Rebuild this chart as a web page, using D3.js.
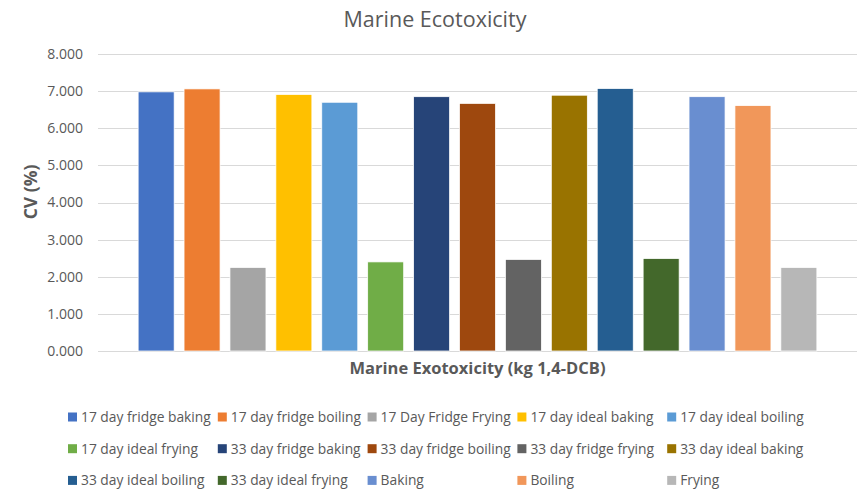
<!DOCTYPE html>
<html>
<head>
<meta charset="utf-8">
<script src="https://cdn.jsdelivr.net/npm/d3@7"></script>
<style>
  html, body { margin: 0; padding: 0; background: #fff; }
  svg { display: block; font-family: "Open Sans", "Noto Sans", sans-serif; }
</style>
</head>
<body>
<svg id="chart" width="863" height="493"></svg>
<script>
// Single category, one bar per treatment series
const category = "Marine Exotoxicity (kg 1,4-DCB)";
const seriesNames = [
  "17 day fridge baking", "17 day fridge boiling", "17 Day Fridge Frying",
  "17 day ideal baking", "17 day ideal boiling", "17 day ideal frying",
  "33 day fridge baking", "33 day fridge boiling", "33 day fridge frying",
  "33 day ideal baking", "33 day ideal boiling", "33 day ideal frying",
  "Baking", "Boiling", "Frying"
];
const seriesValues = [6.98, 7.06, 2.25, 6.91, 6.70, 2.40, 6.85, 6.67, 2.465, 6.89, 7.07, 2.49, 6.85, 6.61, 2.25];
const seriesColors = [
  "#4472C4", "#ED7D31", "#A5A5A5", "#FFC000", "#5B9BD5", "#70AD47",
  "#264478", "#9E480E", "#636363", "#997300", "#255E91", "#43682B",
  "#698ED0", "#F1975A", "#B7B7B7"
];
const yTicks = [0, 1, 2, 3, 4, 5, 6, 7, 8];

const svg = d3.select("#chart");
const plot = { left: 98, right: 857, top: 54, bottom: 351 };
const textColor = "#595959";

const y = d3.scaleLinear().domain([0, 8]).range([plot.bottom, plot.top]);
const x0 = d3.scaleBand().domain([category]).range([plot.left, plot.right]).paddingOuter(0.0511);
const x1 = d3.scaleBand().domain(seriesNames).range([0, x0.bandwidth()]).paddingInner(0.2155).paddingOuter(0.2155 / 2);

// Gridlines
svg.append("g")
  .selectAll("line")
  .data(yTicks)
  .join("line")
  .attr("x1", plot.left).attr("x2", plot.right)
  .attr("y1", d => Math.round(y(d)) + 0.5).attr("y2", d => Math.round(y(d)) + 0.5)
  .attr("stroke", "#D9D9D9").attr("stroke-width", 1);

// Y axis labels
const yAxis = d3.axisLeft(y).tickValues(yTicks).tickFormat(d3.format(".3f")).tickSize(0).tickPadding(0);
const gy = svg.append("g").attr("transform", `translate(83,0)`).call(yAxis);
gy.select(".domain").remove();
gy.selectAll("text").attr("fill", textColor).style("font-size", "14px").style("font-family", "'Open Sans', sans-serif");

// Bars
const data = seriesNames.map((name, i) => ({ name, value: seriesValues[i], color: seriesColors[i] }));
svg.append("g")
  .attr("transform", `translate(${x0(category)},0)`)
  .selectAll("rect")
  .data(data)
  .join("rect")
  .attr("x", d => x1(d.name))
  .attr("width", x1.bandwidth())
  .attr("y", d => y(d.value))
  .attr("height", d => y(0) - y(d.value))
  .attr("fill", d => d.color)
  .attr("stroke", "#ffffff")
  .attr("stroke-width", 0.75);

// Title
svg.append("text")
  .attr("x", 435).attr("y", 27)
  .attr("text-anchor", "middle")
  .attr("fill", textColor)
  .style("font-size", "21.5px")
  .text("Marine Ecotoxicity");

// Axis titles
svg.append("text")
  .attr("x", (plot.left + plot.right) / 2).attr("y", 374)
  .attr("text-anchor", "middle")
  .attr("fill", textColor)
  .style("font-size", "16.5px").style("font-weight", "bold")
  .text(category);

svg.append("text")
  .attr("transform", "translate(37,192) rotate(-90)")
  .attr("text-anchor", "middle")
  .attr("fill", textColor)
  .style("font-size", "17.5px").style("font-weight", "bold")
  .text("CV (%)");

// Legend: 5 columns x 3 rows
const legendCols = 5;
const legend = svg.append("g")
  .selectAll("g")
  .data(data)
  .join("g")
  .attr("transform", (d, i) => {
    const col = i % legendCols, row = Math.floor(i / legendCols);
    return `translate(${68 + col * 149.8},${417 + row * 31.7})`;
  });
legend.append("rect")
  .attr("x", 0).attr("y", -4.5).attr("width", 9).attr("height", 9)
  .attr("fill", d => d.color);
legend.append("text")
  .attr("x", 13).attr("y", 0).attr("dy", "0.35em")
  .attr("fill", textColor)
  .style("font-size", "13.8px")
  .text(d => d.name);
</script>
</body>
</html>
